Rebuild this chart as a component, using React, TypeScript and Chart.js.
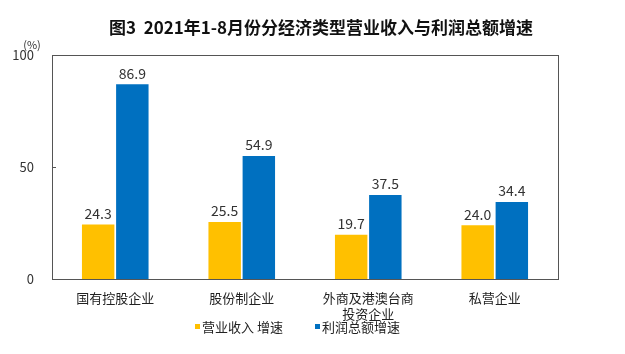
import React, { useEffect, useRef } from "react";
import { Chart, registerables } from "chart.js";
Chart.register(...registerables);

const categories: (string | string[])[] = ["国有控股企业", "股份制企业", ["外商及港澳台商", "投资企业"], "私营企业"];
const revenueGrowth = [24.3, 25.5, 19.7, 24.0];
const profitGrowth = [86.9, 54.9, 37.5, 34.4];
const seriesNames = ["营业收入 增速", "利润总额增速"];
const yTicks = [0, 50, 100];
const titleText = "图3  2021年1-8月份分经济类型营业收入与利润总额增速";
const unitText = "(%)";

const FONT = "'Noto Sans CJK SC', 'DejaVu Sans', sans-serif";
const COLORS = ["#FFC000", "#0070C0"];

const decor = {
  id: "decor",
  afterDatasetsDraw(chart: any) {
    const ctx = chart.ctx;
    const a = chart.chartArea;
    ctx.save();
    // frame
    ctx.strokeStyle = "#555";
    ctx.lineWidth = 1;
    ctx.strokeRect(Math.round(a.left) + 0.5, Math.round(a.top) + 0.5, Math.round(a.right - a.left), Math.round(a.bottom - a.top));
    // inward ticks
    const ys = chart.scales.y;
    yTicks.forEach((v) => {
      const y = Math.round(ys.getPixelForValue(v)) + 0.5;
      ctx.beginPath();
      ctx.moveTo(a.left, y);
      ctx.lineTo(a.left + 4, y);
      ctx.stroke();
    });
    // data labels
    ctx.fillStyle = "#333";
    ctx.font = `14px ${FONT}`;
    ctx.textAlign = "center";
    ctx.textBaseline = "bottom";
    chart.data.datasets.forEach((ds: any, i: number) => {
      const meta = chart.getDatasetMeta(i);
      meta.data.forEach((bar: any, j: number) => {
        ctx.fillText(Number(ds.data[j]).toFixed(1), bar.x, bar.y - 4);
      });
    });
    // title
    ctx.fillStyle = "#111";
    ctx.font = `bold 17px ${FONT}`;
    ctx.textBaseline = "middle";
    ctx.fillText(titleText, 321, 28);
    // unit
    ctx.font = `11px ${FONT}`;
    ctx.fillStyle = "#333";
    ctx.fillText(unitText, 32, 45);
    // legend
    ctx.font = `13px ${FONT}`;
    ctx.textAlign = "left";
    const lx = [195, 315];
    seriesNames.forEach((n, i) => {
      ctx.fillStyle = COLORS[i];
      ctx.fillRect(lx[i], 324, 5, 5);
      ctx.fillStyle = "#222";
      ctx.fillText(n, lx[i] + 7, 327);
    });
    ctx.restore();
  },
};

export default function App() {
  const ref = useRef<HTMLCanvasElement>(null);
  useEffect(() => {
    document.body.style.margin = "0";
    const chart = new Chart(ref.current!, {
      type: "bar",
      data: {
        labels: categories as any,
        datasets: [
          { label: seriesNames[0], data: revenueGrowth, backgroundColor: COLORS[0], categoryPercentage: 0.54, barPercentage: 0.95 },
          { label: seriesNames[1], data: profitGrowth, backgroundColor: COLORS[1], categoryPercentage: 0.54, barPercentage: 0.95 },
        ],
      },
      options: {
        animation: false,
        responsive: false,
        maintainAspectRatio: false,
        layout: { padding: { left: 0, right: 67, top: 55, bottom: 0 } },
        plugins: { legend: { display: false }, title: { display: false }, tooltip: { enabled: false } },
        scales: {
          x: {
            grid: { display: false },
            border: { display: false },
            ticks: { color: "#222", font: { family: FONT, size: 13, lineHeight: 1.25 }, padding: 3, maxRotation: 0, autoSkip: false },
            afterFit: (s: any) => { s.height = 75; },
          },
          y: {
            min: 0,
            max: 100,
            afterBuildTicks: (s: any) => { s.ticks = yTicks.map((v) => ({ value: v })); },
            grid: { display: false },
            border: { display: false },
            ticks: { color: "#333", font: { family: FONT, size: 13 }, padding: 10 },
            afterFit: (s: any) => { s.width = 52; },
          },
        },
      },
      plugins: [decor],
    });
    return () => chart.destroy();
  }, []);
  return (
    <div style={{ width: 625, height: 354, background: "#fff" }}>
      <canvas ref={ref} width={625} height={354} style={{ display: "block" }} />
    </div>
  );
}
